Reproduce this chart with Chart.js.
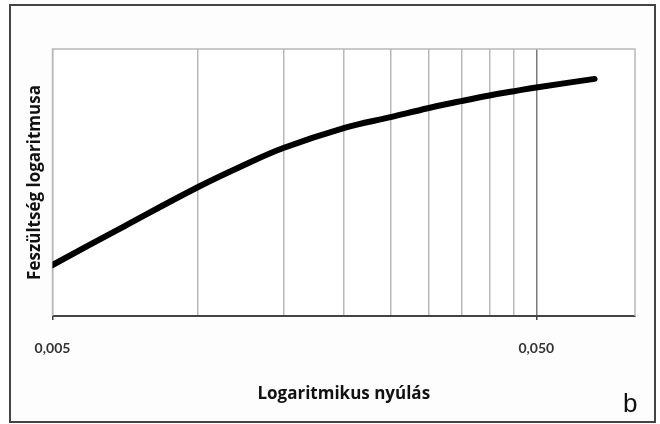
<!DOCTYPE html>
<html lang="hu">
<head>
    <meta charset="UTF-8">
    <title>Feszültség - logaritmikus nyúlás</title>
    <script src="https://cdn.jsdelivr.net/npm/chart.js"></script>
    <style>
        body { margin: 0; background: #ffffff; }
        #wrap { width: 660px; height: 424px; }
    </style>
</head>
<body>
    <div id="wrap"><canvas id="curve" width="660" height="424"></canvas></div>

    <script>
        // logaritmikus nyúlás (x) és a feszültség logaritmusa (y, relatív egység)
        const strain = [0.005, 0.00705, 0.01, 0.0122, 0.015, 0.02, 0.025, 0.03, 0.035, 0.04, 0.045, 0.05, 0.066];
        const logStress = [0.191, 0.337, 0.483, 0.558, 0.629, 0.704, 0.745, 0.779, 0.805, 0.826, 0.842, 0.856, 0.888];

        // rácsvonalak helye és a feliratozott osztások
        const gridTicks = [0.005, 0.01, 0.015, 0.02, 0.025, 0.03, 0.035, 0.04, 0.045, 0.05];
        const labeledTicks = [0.005, 0.05];

        const points = strain.map((x, i) => ({ x: x, y: logStress[i] }));

        // külső keret, háttér és a "b" jelölés
        const framePlugin = {
            id: 'frame',
            beforeDraw(chart) {
                const c = chart.ctx;
                c.save();
                c.fillStyle = '#fdfdfd';
                c.fillRect(10, 5, 645, 417);
                c.fillStyle = '#ffffff';
                const a = chart.chartArea;
                c.fillRect(a.left, a.top, a.right - a.left, a.bottom - a.top);
                c.strokeStyle = '#444444';
                c.lineWidth = 2;
                c.strokeRect(10, 5, 645, 417);
                c.restore();
            },
            beforeDatasetsDraw(chart) {
                const c = chart.ctx;
                const a = chart.chartArea;
                c.save();
                c.strokeStyle = '#b8b8b8';
                c.lineWidth = 1.5;
                c.beginPath();
                c.moveTo(a.left, a.bottom);
                c.lineTo(a.left, a.top);
                c.lineTo(a.right, a.top);
                c.lineTo(a.right, a.bottom);
                c.stroke();
                c.restore();
            },
            afterDraw(chart) {
                const c = chart.ctx;
                c.save();
                c.fillStyle = '#111111';
                c.font = '26px "Liberation Sans"';
                c.textBaseline = 'alphabetic';
                c.fillText('b', 623, 412);
                c.restore();
            }
        };

        Chart.defaults.font.family = 'Lato';

        new Chart(document.getElementById('curve'), {
            type: 'line',
            data: {
                datasets: [{
                    data: points,
                    borderColor: '#000000',
                    borderWidth: 6,
                    borderCapStyle: 'round',
                    tension: 0.4,
                    pointRadius: 0,
                    fill: false
                }]
            },
            options: {
                responsive: false,
                animation: false,
                layout: { padding: { left: 12, top: 49, right: 25, bottom: 0 } },
                plugins: { legend: { display: false }, tooltip: { enabled: false } },
                scales: {
                    x: {
                        type: 'logarithmic',
                        min: 0.005,
                        max: 0.08,
                        afterBuildTicks(scale) {
                            scale.ticks = gridTicks.map(v => ({ value: v }));
                        },
                        afterFit(scale) { scale.height = 108; },
                        grid: {
                            color: ctx => ctx.tick && ctx.tick.value === 0.05 ? '#7a7a7a' : '#b8b8b8',
                            lineWidth: 1.5,
                            tickLength: 4,
                            tickColor: ctx => ctx.tick && labeledTicks.includes(ctx.tick.value) ? '#444444' : 'rgba(0,0,0,0)'
                        },
                        border: { color: '#444444', width: 2 },
                        ticks: {
                            autoSkip: false,
                            maxRotation: 0,
                            padding: 20,
                            color: '#333333',
                            font: { size: 14, weight: 'bold' },
                            callback: v => labeledTicks.includes(v) ? v.toFixed(3).replace('.', ',') : ''
                        },
                        title: {
                            display: true,
                            text: 'Logaritmikus nyúlás',
                            color: '#111111',
                            font: { family: 'Open Sans', size: 17, weight: 'bold' },
                            padding: { top: 0, bottom: 20 }
                        }
                    },
                    y: {
                        min: 0,
                        max: 1,
                        afterFit(scale) { scale.width = 40.5; },
                        grid: { display: false },
                        border: { display: false },
                        ticks: { display: false },
                        title: {
                            display: true,
                            text: 'Feszültség logaritmusa',
                            color: '#111111',
                            font: { family: 'Open Sans', size: 17, weight: 'bold' },
                            padding: { top: 13, bottom: 0 }
                        }
                    }
                }
            },
            plugins: [framePlugin]
        });
    </script>
</body>
</html>
